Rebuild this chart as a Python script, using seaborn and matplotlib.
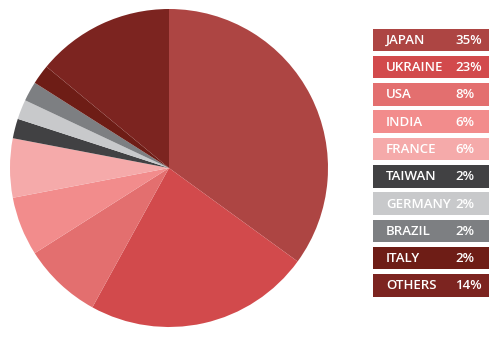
import matplotlib
matplotlib.use("Agg")
import matplotlib.pyplot as plt
from matplotlib.patches import Rectangle
import seaborn as sns

countries = ["JAPAN", "UKRAINE", "USA", "INDIA", "FRANCE", "TAIWAN", "GERMANY", "BRAZIL", "ITALY", "OTHERS"]
shares = [35, 23, 8, 6, 6, 2, 2, 2, 2, 14]
colors = ["#AD4543", "#D24A4C", "#E36F6F", "#F28C8C", "#F5AAAA",
          "#414143", "#C8C9CB", "#7D7F82", "#6E1D16", "#7C2420"]

sns.set_theme(style="white")
plt.rcParams['font.family'] = ['Open Sans', 'DejaVu Sans']

W, H = 500, 339
fig = plt.figure(figsize=(W / 100, H / 100), dpi=100)
fig.patch.set_facecolor("white")

# Pie
cx, cy, r = 169, 168, 159
ax = fig.add_axes([(cx - r) / W, (H - cy - r) / H, 2 * r / W, 2 * r / H])
ax.pie(shares, colors=colors, startangle=90, counterclock=False, radius=1,
       wedgeprops=dict(linewidth=0))
ax.set_xlim(-1, 1)
ax.set_ylim(-1, 1)
ax.set_aspect("equal")
ax.axis("off")

# Legend boxes
lax = fig.add_axes([0, 0, 1, 1])
lax.set_xlim(0, W)
lax.set_ylim(H, 0)
lax.axis("off")
x0, x1 = 373, 489
top0, step, bh = 28.5, 27.3, 22.5
for i, (name, val, col) in enumerate(zip(countries, shares, colors)):
    top = top0 + i * step
    lax.add_patch(Rectangle((x0, top), x1 - x0, bh, facecolor=col, edgecolor="none"))
    lax.text(386, top + bh / 2 + 0.5, name, color="white", fontsize=9.5,
             fontweight="semibold", va="center", ha="left")
    lax.text(455, top + bh / 2 + 0.5, f"{val}%", color="white", fontsize=9.5,
             fontweight="semibold", va="center", ha="left")

fig.savefig("out.png", dpi=100, facecolor="white")
